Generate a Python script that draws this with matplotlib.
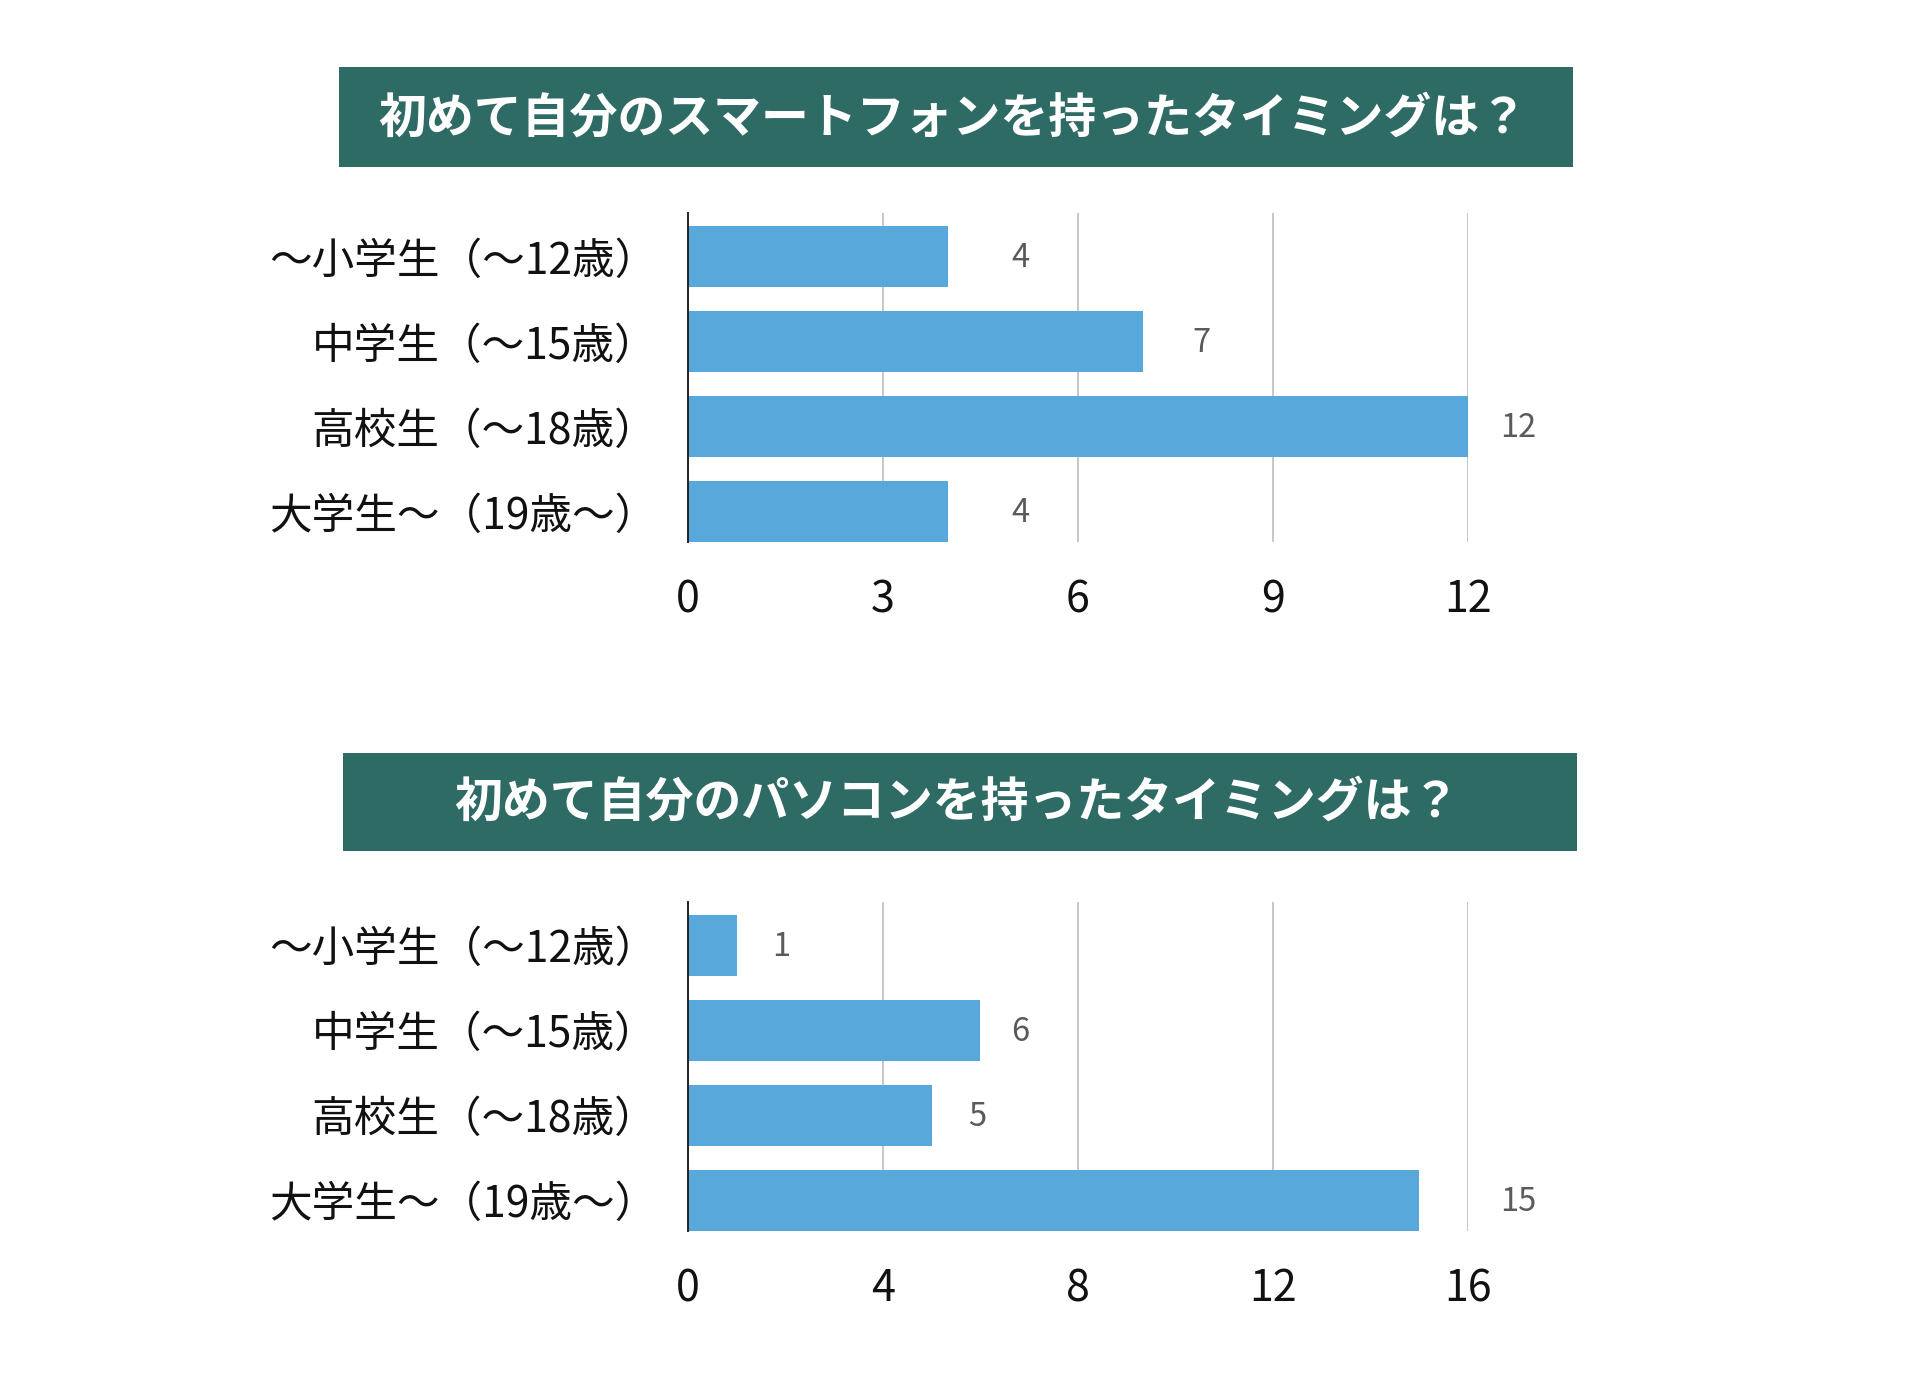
import matplotlib.pyplot as plt
from matplotlib.patches import Rectangle

plt.rcParams["font.family"] = ["Noto Sans CJK JP", "DejaVu Sans"]

# --- data ---
categories = ["〜小学生（〜12歳）", "中学生（〜15歳）", "高校生（〜18歳）", "大学生〜（19歳〜）"]

phone_title = "初めて自分のスマートフォンを持ったタイミングは？"
phone_counts = [4, 7, 12, 4]
phone_ticks = [0, 3, 6, 9, 12]

pc_title = "初めて自分のパソコンを持ったタイミングは？"
pc_counts = [1, 6, 5, 15]
pc_ticks = [0, 4, 8, 12, 16]

# label offsets (px) from bar end, as placed in the original
phone_label_dx = [73, 59, 50, 73]
pc_label_dx = [45, 40, 45, 99]

BAR_COLOR = "#58A8DB"
BOX_COLOR = "#2E6B64"
GRID_COLOR = "#BDBDBD"

fig = plt.figure(figsize=(19.2, 13.8), dpi=100)
fig.patch.set_facecolor("white")


def draw_panel(rect, box, title, title_xy, counts, ticks, label_dx):
    # title banner
    fig.patches.append(Rectangle(box[:2], box[2], box[3], transform=fig.transFigure,
                                 facecolor=BOX_COLOR, edgecolor="none", zorder=0))
    fig.text(title_xy[0], title_xy[1], title, color="white", fontsize=34.5,
             fontweight="bold", ha="center", va="center")

    ax = fig.add_axes(rect)
    y = list(range(len(categories)))
    ax.barh(y, counts, height=0.71, color=BAR_COLOR, zorder=2)
    ax.set_xlim(ticks[0], ticks[-1])
    ax.set_ylim(3.36, -0.51)
    ax.set_xticks(ticks)
    ax.set_xticklabels([str(t) for t in ticks])
    ax.set_yticks(y)
    ax.set_yticklabels(categories)
    ax.tick_params(axis="x", length=0, pad=26, labelsize=31, labelcolor="#111111")
    ax.tick_params(axis="y", length=0, pad=22, labelsize=30.7, labelcolor="#111111")
    ax.grid(axis="x", color=GRID_COLOR, lw=1.2, zorder=0)
    ax.set_axisbelow(True)
    for side in ["top", "right", "bottom"]:
        ax.spines[side].set_visible(False)
    ax.spines["left"].set_linewidth(1.4)
    ax.spines["left"].set_color("#222222")
    ax.spines["left"].set_zorder(3)

    for yi, v, dx in zip(y, counts, label_dx):
        ax.annotate(str(v), (v, yi), xytext=(dx, -2), textcoords="offset pixels",
                    ha="center", va="center", fontsize=23.5, color="#5A5A5A",
                    annotation_clip=False)
    return ax


draw_panel([0.3583, 0.6072, 0.40625, 0.2384], (0.1766, 0.879, 0.6427, 0.0725),
           phone_title, (0.4964, 0.9148), phone_counts, phone_ticks, phone_label_dx)
draw_panel([0.3583, 0.1080, 0.40625, 0.2384], (0.1786, 0.3833, 0.6427, 0.0710),
           pc_title, (0.4984, 0.4188), pc_counts, pc_ticks, pc_label_dx)

plt.savefig("out.png", dpi=100)
plt.close()
